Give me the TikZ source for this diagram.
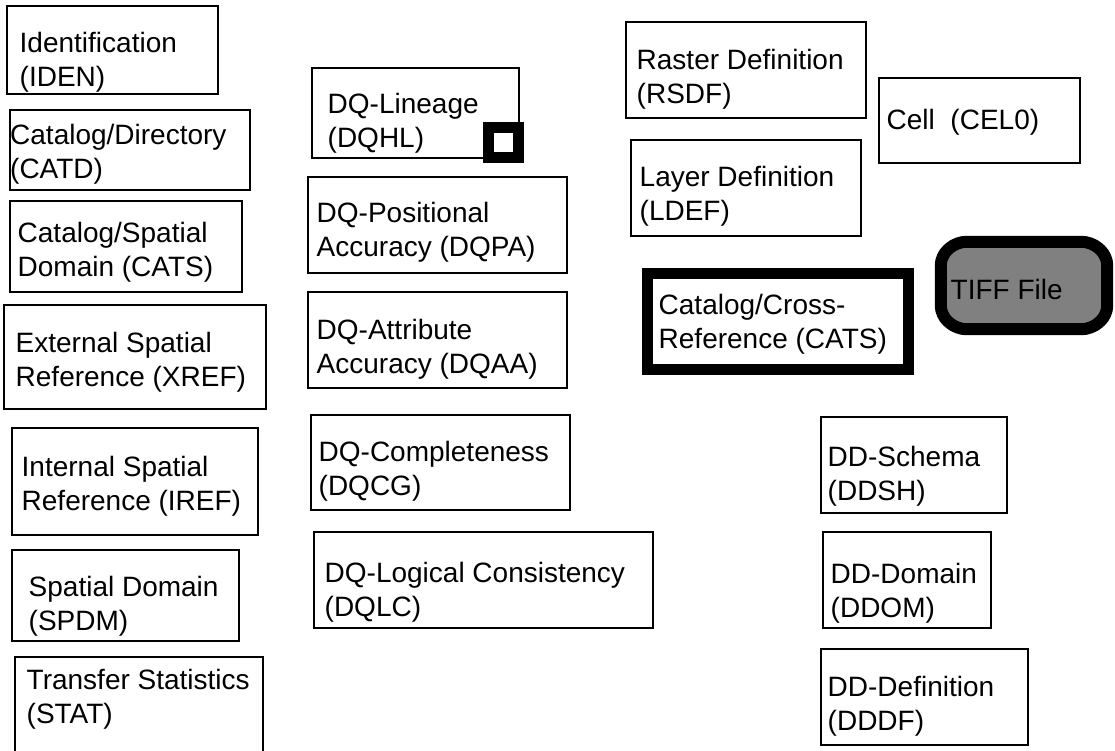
\documentclass[tikz,border=0pt]{standalone}
\usepackage{fontspec}
\setmainfont{Liberation Sans}

% #1 style, #2 name, #3-#6 box corners (x1,y1,x2,y2), #7-#8 text start (base west), #9 text
\newcommand\recbox[9][entity]{%
  \node[#1, minimum width={#5-#3}, minimum height={#6-#4}] (#2) at ({(#3+#5)/2},{(#4+#6)/2}) {};
  \node[lbl] (#2-t) at (#7,#8) {\begin{tabular}[t]{@{}l@{}}#9\end{tabular}};
}

\begin{document}
\begin{tikzpicture}[
  x=1pt, y=-1pt,
  entity/.style={draw=black, line width=1.1pt, inner sep=0pt, fill=white},
  heavy/.style={draw=black, line width=11pt, inner sep=0pt, fill=white},
  tiffarea/.style={inner sep=0pt},
  tiffline/.style={draw=black, line width=12pt, fill=gray, rounded corners=9pt},
  lbl/.style={anchor=base west, inner sep=0pt, font=\fontsize{28}{34}\selectfont},
]
\useasboundingbox[fill=white] (0,0) rectangle (1115,750);

% transfer and spatial modules
\recbox{iden}{7}{6}{218}{94}{19.5}{52.7}{Identification\\(IDEN)}
\recbox{catd}{10}{110}{250}{190}{10}{144}{Catalog/Directory\\(CATD)}
\recbox{cats}{10}{201}{242}{292}{17.5}{242}{Catalog/Spatial\\Domain (CATS)}
\recbox{xref}{4}{305}{266}{409}{15.5}{352}{External Spatial\\Reference (XREF)}
\recbox{iref}{12}{428}{258}{535}{21.5}{476}{Internal Spatial\\Reference (IREF)}
\recbox{spdm}{12}{550}{239}{641}{28.5}{596}{Spatial Domain\\(SPDM)}
\recbox{stat}{15}{657}{263}{770}{26.5}{689}{Transfer Statistics\\(STAT)}

% data quality modules
\recbox{dqhl}{312}{68}{519}{158}{327.5}{113}{DQ-Lineage\\(DQHL)}
\node[heavy, minimum width=30, minimum height=30] (dqhlmark) at (503.5,142.5) {};
\recbox{dqpa}{308}{177}{567}{273}{316.5}{222}{DQ-Positional\\Accuracy (DQPA)}
\recbox{dqaa}{308}{292}{567}{388}{316.5}{339}{DQ-Attribute\\Accuracy (DQAA)}
\recbox{dqcg}{311}{415}{570}{510}{318.5}{461}{DQ-Completeness\\(DQCG)}
\recbox{dqlc}{314}{532}{653}{628}{324.5}{582}{DQ-Logical Consistency\\(DQLC)}

% raster and data dictionary modules
\recbox{rsdf}{626}{22}{866}{118}{636.5}{69}{Raster Definition\\(RSDF)}
\recbox{ldef}{631}{140}{861}{236}{639.5}{186}{Layer Definition\\(LDEF)}
\recbox{cel0}{879}{78}{1080}{163}{886.5}{129.5}{Cell\ \ (CEL0)}
\recbox[heavy]{catx}{647.5}{273.5}{908.5}{369.5}{658.5}{314}{Catalog/Cross-\\Reference (CATS)}

% TIFF file: grey octagonal outline round a plain node
\node[tiffarea, minimum width=166, minimum height=87] (tiff) at (1024,285.5) {};
\path[tiffline]
  ([xshift=16pt]tiff.north west) -- ([xshift=-16pt]tiff.north east)
  -- ([yshift=-14pt]tiff.north east) -- ([yshift=14pt]tiff.south east)
  -- ([xshift=-16pt]tiff.south east) -- ([xshift=16pt]tiff.south west)
  -- ([yshift=14pt]tiff.south west) -- ([yshift=-14pt]tiff.north west) -- cycle;
\node[lbl] (tiff-t) at (950.5,299) {TIFF File};

\recbox{ddsh}{821}{417}{1007}{513}{827.5}{466}{DD-Schema\\(DDSH)}
\recbox{ddom}{823}{532}{991}{628}{830.5}{583}{DD-Domain\\(DDOM)}
\recbox{dddf}{821}{649}{1028}{745}{827.5}{696}{DD-Definition\\(DDDF)}
\end{tikzpicture}
\end{document}
